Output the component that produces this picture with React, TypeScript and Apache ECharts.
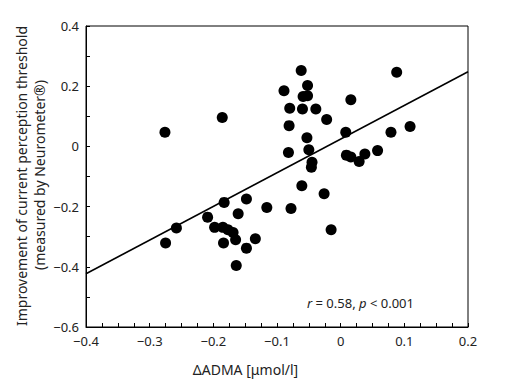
import React, { useEffect, useRef } from "react";
import * as echarts from "echarts";

const xValues = [
  -0.276, -0.186, -0.275, -0.258, -0.209, -0.198, -0.183, -0.185, -0.184, -0.177,
  -0.169, -0.165, -0.161, -0.164, -0.148, -0.148, -0.134, -0.116, -0.089, -0.080,
  -0.081, -0.082, -0.078, -0.062, -0.052, -0.059, -0.052, -0.060, -0.039, -0.053,
  -0.050, -0.045, -0.046, -0.061, -0.022, -0.026, -0.015, 0.008, 0.016, 0.009,
  0.016, 0.029, 0.038, 0.058, 0.079, 0.088, 0.109,
];
const yValues = [
  0.047, 0.096, -0.321, -0.271, -0.235, -0.269, -0.186, -0.269, -0.321, -0.277,
  -0.286, -0.31, -0.224, -0.396, -0.175, -0.338, -0.307, -0.203, 0.185, 0.127,
  0.069, -0.02, -0.206, 0.252, 0.202, 0.166, 0.168, 0.124, 0.124, 0.029,
  -0.011, -0.053, -0.069, -0.131, 0.089, -0.157, -0.277, 0.047, 0.155, -0.029,
  -0.035, -0.05, -0.025, -0.014, 0.047, 0.246, 0.066,
];
const fitX = [-0.4, 0.2];
const fitY = [-0.423, 0.248];

const xTitle = "ΔADMA [μmol/l]";
const yTitle1 = "Improvement of current perception threshold";
const yTitle2 = "(measured by Neurometer®)";

const FONT = "'Noto Sans', sans-serif";
const TXT = "#222";

function fmt(v: number, step: number): string {
  const k = v / step;
  if (Math.abs(k - Math.round(k)) > 1e-6) return "";
  const r = Math.round(v * 10) / 10;
  if (Math.abs(r) < 1e-9) return "0";
  const s = Math.abs(r).toFixed(1);
  return r < 0 ? "\u2212" + s : s;
}

export default function App() {
  const ref = useRef<HTMLDivElement>(null);
  useEffect(() => {
    if (!ref.current) return;
    const chart = echarts.init(ref.current, undefined, { renderer: "svg" });
    chart.setOption({
      animation: false,
      backgroundColor: "#fff",
      grid: {
        left: 86,
        right: 39,
        top: 26,
        bottom: 54,
        show: true,
        borderColor: "#000",
        borderWidth: 1,
      },
      xAxis: {
        type: "value",
        min: -0.4,
        max: 0.2,
        interval: 0.1,
        axisLine: { onZero: false, lineStyle: { color: "#000", width: 1 } },
        axisTick: { show: true, inside: true, length: 4, lineStyle: { color: "#000" } },
        minorTick: { show: true, splitNumber: 4, length: 4, lineStyle: { color: "#000" } },
        splitLine: { show: false },
        minorSplitLine: { show: false },
        axisLabel: {
          formatter: (v: number) => fmt(v, 0.1),
          color: TXT,
          fontSize: 13,
          fontFamily: FONT,
          margin: 7,
          showMinLabel: true,
          showMaxLabel: true,
          hideOverlap: false,
        },
      },
      yAxis: {
        type: "value",
        min: -0.6,
        max: 0.4,
        interval: 0.1,
        axisLine: { onZero: false, lineStyle: { color: "#000", width: 1 } },
        axisTick: { show: true, inside: true, length: 4, lineStyle: { color: "#000" } },
        splitLine: { show: false },
        axisLabel: {
          formatter: (v: number) => fmt(v, 0.2),
          color: TXT,
          fontSize: 13,
          fontFamily: FONT,
          margin: 7,
          showMinLabel: true,
          showMaxLabel: true,
        },
      },
      series: [
        {
          type: "line",
          data: fitX.map((x, i) => [x, fitY[i]]),
          symbol: "none",
          lineStyle: { color: "#000", width: 1.5 },
          silent: true,
          z: 2,
        },
        {
          type: "scatter",
          data: xValues.map((x, i) => [x, yValues[i]]),
          symbol: "circle",
          symbolSize: 11,
          itemStyle: { color: "#000", opacity: 1 },
          z: 3,
        },
      ],
      graphic: [
        {
          type: "text",
          x: 245.5,
          y: 369,
          style: {
            text: xTitle,
            fill: TXT,
            font: `14px ${FONT}`,
            align: "center",
            verticalAlign: "middle",
          },
        },
        {
          type: "text",
          x: 21,
          y: 176,
          rotation: Math.PI / 2,
          style: {
            text: yTitle1,
            fill: TXT,
            font: `14px ${FONT}`,
            align: "center",
            verticalAlign: "middle",
          },
        },
        {
          type: "text",
          x: 39,
          y: 175,
          rotation: Math.PI / 2,
          style: {
            text: yTitle2,
            fill: TXT,
            font: `14px ${FONT}`,
            align: "center",
            verticalAlign: "middle",
          },
        },
        {
          type: "text",
          x: 307,
          y: 303,
          style: {
            rich: {
              i: { fontStyle: "italic", fontSize: 13, fontFamily: FONT, fill: TXT },
              n: { fontSize: 13, fontFamily: FONT, fill: TXT },
            },
            text: "{i|r}{n| = 0.58, }{i|p}{n| < 0.001}",
            align: "left",
            verticalAlign: "middle",
          },
        },
      ],
    });
    return () => chart.dispose();
  }, []);
  return (
    <div
      ref={ref}
      style={{ position: "absolute", left: 0, top: 0, width: 507, height: 381 }}
    />
  );
}
